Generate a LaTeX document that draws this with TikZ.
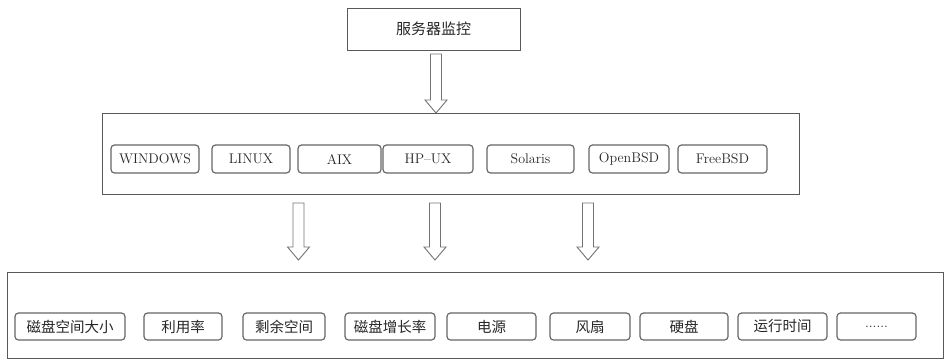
\documentclass[tikz,border=0pt]{standalone}
\usepackage{fontspec}
\newfontfamily\cjk{Noto Sans CJK SC}
\begin{document}
\begin{tikzpicture}[x=1pt,y=-1pt,
  frame/.style={draw=black!65, line width=1pt, inner sep=0pt},
  item/.style={draw=black!60, line width=1.2pt, rounded corners=3.5pt, inner sep=0pt, text=black!85, font=\fontsize{14}{16}\selectfont},
  mitem/.style={item, minimum height=28pt},
  bitem/.style={item, minimum height=27pt, font=\cjk\fontsize{14.5}{16}\selectfont},
  arr/.style={draw=black!55, line width=0.9pt, fill=white, line join=miter}
]
\useasboundingbox (0,0) rectangle (944,360);
\newcommand{\blockarrow}[3]{\draw[arr] (#1-5.5,#2) -- (#1+5.5,#2) -- (#1+5.5,#3-13) -- (#1+11,#3-13) -- (#1,#3) -- (#1-11,#3-13) -- (#1-5.5,#3-13) -- cycle;}

% top
\node[frame, minimum width=173pt, minimum height=42pt, font=\cjk\fontsize{15}{17}\selectfont, text=black!85] (top) at (433.5,29) {服务器监控};

% middle frame
\node[frame, minimum width=697pt, minimum height=81pt] (mid) at (450.5,153.5) {};
\node[mitem, minimum width=88pt] (win) at (155,159) {WINDOWS};
\node[mitem, minimum width=78pt] (linux) at (251,159) {LINUX};
\node[mitem, minimum width=83pt] (aix) at (339.5,159) {AIX};
\node[mitem, minimum width=90pt] (hpux) at (428,159) {HP--UX};
\node[mitem, minimum width=87pt] (sol) at (530.5,159) {Solaris};
\node[mitem, minimum width=80pt] (obsd) at (629,159) {OpenBSD};
\node[mitem, minimum width=89pt] (fbsd) at (722.5,159) {FreeBSD};

% bottom frame
\node[frame, minimum width=936pt, minimum height=86pt] (bot) at (475,315) {};
\node[bitem, minimum width=110pt] (b1) at (70,326.5) {磁盘空间大小};
\node[bitem, minimum width=78pt] (b2) at (183,326.5) {利用率};
\node[bitem, minimum width=82pt] (b3) at (284,326.5) {剩余空间};
\node[bitem, minimum width=90pt] (b4) at (390,326.5) {磁盘增长率};
\node[bitem, minimum width=89pt] (b5) at (491.5,326.5) {电源};
\node[bitem, minimum width=80pt] (b6) at (590,326.5) {风扇};
\node[bitem, minimum width=88pt] (b7) at (684,326.5) {硬盘};
\node[bitem, minimum width=89pt] (b8) at (782.5,326.5) {运行时间};
\node[item, minimum height=27pt, minimum width=79pt] (b9) at (876.5,326.5) {......};

% arrows
\blockarrow{436}{54}{113}
\blockarrow{298.5}{203}{260}
\blockarrow{435}{203}{260}
\blockarrow{588}{203}{260}
\end{tikzpicture}
\end{document}
